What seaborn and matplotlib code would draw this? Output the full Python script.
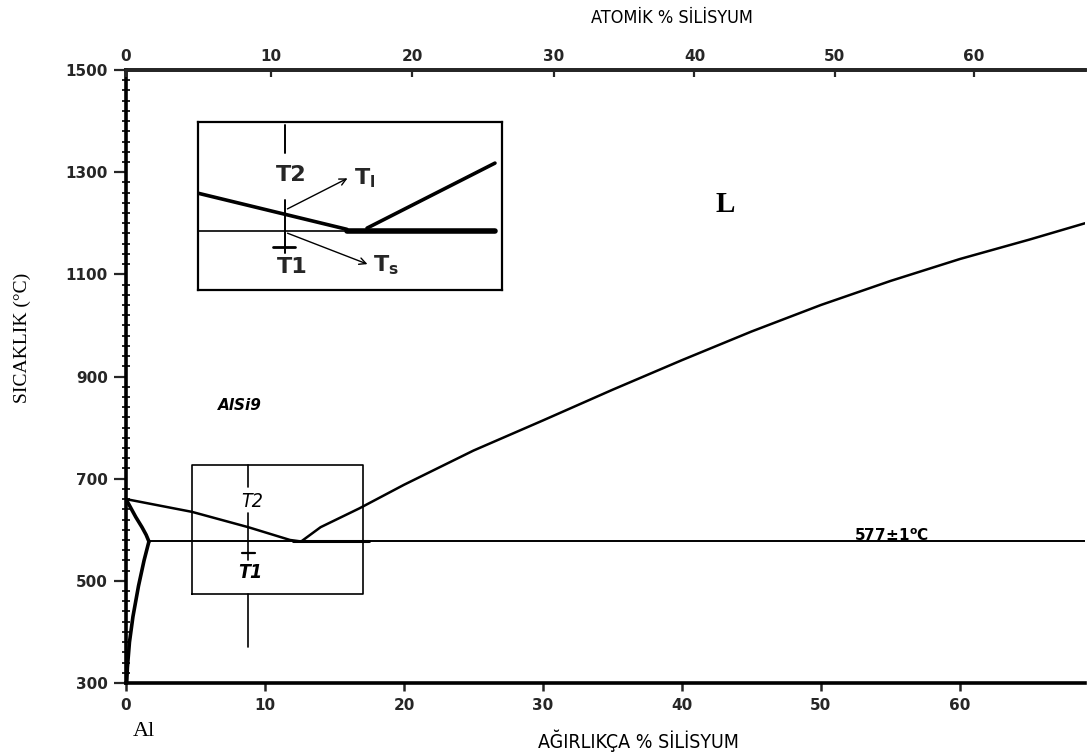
import numpy as np
import pandas as pd
import matplotlib
matplotlib.use("Agg")
import matplotlib.pyplot as plt
import seaborn as sns
from matplotlib.ticker import MultipleLocator, FixedLocator, NullLocator

# ---------------- data (wt.% Si, temperature in deg C) ----------------
liq_al_wt = [0, 4.75, 8.8, 11.8, 12.6]
liq_al_T = [660, 635, 605, 580, 577]
liq_si_wt = [12.6, 14, 16.8, 20, 25, 30, 35, 40, 45, 50, 55, 60, 65, 69]
liq_si_T = [577, 605, 642, 688, 755, 814, 874, 932, 988, 1040, 1087, 1130, 1168, 1200]
solidus_wt = [0, 0.3, 0.7, 1.15, 1.45, 1.65]
solidus_T = [660, 645, 625, 605, 590, 577]
solvus_wt = [1.65, 1.3, 0.9, 0.5, 0.25, 0.1, 0.05]
solvus_T = [577, 540, 490, 430, 380, 330, 300]
eutectic_wt = [1.65, 69]
eutectic_thick_wt = [12.0, 17.5]
eutectic_T = [577, 577]

# AlSi9 box and alloy line
box_wt = [4.75, 17.05]
box_T = [474, 727]
alloy_wt = 8.8
alloy_segments_T = [(727, 684), (633, 541), (474, 370)]
alloy_tick_T = 554

# axis ticks
y_ticks = [300, 500, 700, 900, 1100, 1300, 1500]
x_ticks = [0, 10, 20, 30, 40, 50, 60]
top_tick_pos = [0, 10.4, 20.6, 30.8, 40.9, 51.0, 61.0]
top_tick_labels = ["0", "10", "20", "30", "40", "50", "60"]

# inset (schematic, normalised coordinates)
inset_bounds_wt = [5.18, 27.05]
inset_bounds_T = [1069, 1398]
inset_liq_x = [0, 0.49]
inset_liq_y = [0.577, 0.362]
inset_eut_thin_x = [0, 0.49]
inset_eut_thick_x = [0.49, 0.977]
inset_eut_y = 0.351
inset_hyper_x = [0.556, 0.977]
inset_hyper_y = [0.369, 0.756]
inset_vline_x = 0.286
inset_vline_segments = [(0.982, 0.815), (0.536, 0.22)]
inset_tick_x = [0.247, 0.319]
inset_tick_y = 0.256

# ---------------- figure ----------------
sns.set_theme(style="white")
plt.rcParams['font.family'] = ['DejaVu Sans']
NARROW = dict(family=["DejaVu Sans"], fontstretch="condensed")

fig = plt.figure(figsize=(10.92, 7.56), dpi=100)
ax = fig.add_axes([126 / 1092, 1 - 683 / 756, (1085 - 126) / 1092, (683 - 70) / 756])
ax.set_xlim(0, 69)
ax.set_ylim(300, 1500)

def curve(x, y, lw):
    sns.lineplot(x=x, y=y, ax=ax, color="black", lw=lw, sort=False,
                 estimator=None, legend=False)

curve(liq_al_wt, liq_al_T, 1.8)
curve(liq_si_wt, liq_si_T, 1.8)
curve(solidus_wt, solidus_T, 2.6)
curve(solvus_wt, solvus_T, 2.6)
curve(eutectic_wt, eutectic_T, 1.4)
curve(eutectic_thick_wt, eutectic_T, 2.2)

# AlSi9 box
bx = [box_wt[0], box_wt[1], box_wt[1], box_wt[0], box_wt[0]]
by = [box_T[0], box_T[0], box_T[1], box_T[1], box_T[0]]
curve(bx, by, 1.2)
for t0, t1 in alloy_segments_T:
    curve([alloy_wt, alloy_wt], [t0, t1], 1.2)
curve([alloy_wt - 0.45, alloy_wt + 0.45], [alloy_tick_T, alloy_tick_T], 1.6)
ax.text(alloy_wt + 0.25, 656, "T2", ha="center", va="center", fontsize=14,
        style="italic", color="black", **NARROW)
ax.text(alloy_wt + 0.15, 517, "T1", ha="center", va="center", fontsize=14,
        style="italic", weight="bold", color="black", **NARROW)

# labels in plot
ax.text(43.1, 1236, "L", ha="center", va="center", fontsize=21, weight="bold",
        family=["Liberation Serif", "DejaVu Serif"], color="black")
ax.text(8.2, 843, "AlSi9", ha="center", va="center", fontsize=11, weight="bold",
        style="italic", color="black")
ax.text(52.4, 588, "577±1$^{\\mathregular{o}}$C", ha="left", va="center", fontsize=11,
        weight="bold", color="black")

# spines and ticks
for s in ["left", "bottom", "top"]:
    ax.spines[s].set_linewidth(2.6)
    ax.spines[s].set_color("black")
ax.spines["right"].set_visible(False)

ax.yaxis.set_major_locator(FixedLocator(y_ticks))
ax.yaxis.set_minor_locator(MultipleLocator(20))
ax.set_yticklabels([str(v) for v in y_ticks])
ax.xaxis.set_major_locator(FixedLocator(x_ticks))
ax.xaxis.set_minor_locator(NullLocator())
ax.set_xticklabels([str(v) for v in x_ticks])
ax.tick_params(axis="y", which="major", direction="out", length=9, width=1.6,
               pad=4, labelsize=11, left=True, right=False)
ax.tick_params(axis="y", which="minor", direction="inout", length=6, width=1.4, left=True)
ax.tick_params(axis="x", which="major", direction="out", length=6, width=1.8,
               pad=5, labelsize=11, bottom=True, top=False)
for lab in ax.get_xticklabels() + ax.get_yticklabels():
    lab.set_fontweight("bold")

top = ax.twiny()
top.set_xlim(ax.get_xlim())
top.xaxis.set_major_locator(FixedLocator(top_tick_pos))
top.set_xticklabels(top_tick_labels)
top.tick_params(axis="x", direction="in", length=5, width=1.6, pad=4, labelsize=11)
for lab in top.get_xticklabels():
    lab.set_fontweight("bold")
for s in ["left", "bottom", "right"]:
    top.spines[s].set_visible(False)
top.spines["top"].set_linewidth(2.6)
top.grid(False)
ax.grid(False)

# axis titles
fig.text(638 / 1092, 1 - 741 / 756, "AĞIRLIKÇA % SİLİSYUM", ha="center", va="center",
         fontsize=14, color="black", **NARROW)
fig.text(672 / 1092, 1 - 18 / 756, "ATOMİK % SİLİSYUM", ha="center", va="center",
         fontsize=13, color="black", **NARROW)
fig.text(22 / 1092, 1 - 338 / 756, "SICAKLIK (°C)", ha="center", va="center", rotation=90,
         fontsize=14, family=["Liberation Serif", "DejaVu Serif"], color="black")
fig.text(144 / 1092, 1 - 731 / 756, "Al", ha="center", va="center", fontsize=16,
         family=["Liberation Serif", "DejaVu Serif"], color="black")

# ---------------- inset ----------------
ins = ax.inset_axes([inset_bounds_wt[0], inset_bounds_T[0],
                     inset_bounds_wt[1] - inset_bounds_wt[0],
                     inset_bounds_T[1] - inset_bounds_T[0]], transform=ax.transData)
ins.set_xlim(0, 1)
ins.set_ylim(0, 1)
ins.set_xticks([])
ins.set_yticks([])
ins.set_facecolor("white")
for s in ins.spines.values():
    s.set_linewidth(1.6)
    s.set_color("black")

def icurve(x, y, lw):
    sns.lineplot(x=x, y=y, ax=ins, color="black", lw=lw, sort=False,
                 estimator=None, legend=False)

icurve(inset_liq_x, inset_liq_y, 2.6)
icurve(inset_eut_thin_x, [inset_eut_y, inset_eut_y], 1.2)
icurve(inset_eut_thick_x, [inset_eut_y, inset_eut_y], 4.0)
icurve(inset_hyper_x, inset_hyper_y, 2.6)
for v0, v1 in inset_vline_segments:
    icurve([inset_vline_x, inset_vline_x], [v0, v1], 1.4)
icurve(inset_tick_x, [inset_tick_y, inset_tick_y], 2.0)
ins.text(0.306, 0.685, "T2", ha="center", va="center", fontsize=16, weight="bold")
ins.text(0.309, 0.137, "T1", ha="center", va="center", fontsize=16, weight="bold")
ins.annotate("", xy=(0.50, 0.673), xytext=(inset_vline_x, 0.476),
             arrowprops=dict(arrowstyle="->", lw=1.0, color="black"))
ins.annotate("", xy=(0.566, 0.149), xytext=(inset_vline_x, 0.345),
             arrowprops=dict(arrowstyle="->", lw=1.0, color="black"))
ins.text(0.512, 0.665, "T$_\\mathregular{l}$", ha="left", va="center", fontsize=16, weight="bold")
ins.text(0.576, 0.15, "T$_\\mathregular{s}$", ha="left", va="center", fontsize=16, weight="bold")

fig.savefig("out.png", dpi=100, facecolor="white")
